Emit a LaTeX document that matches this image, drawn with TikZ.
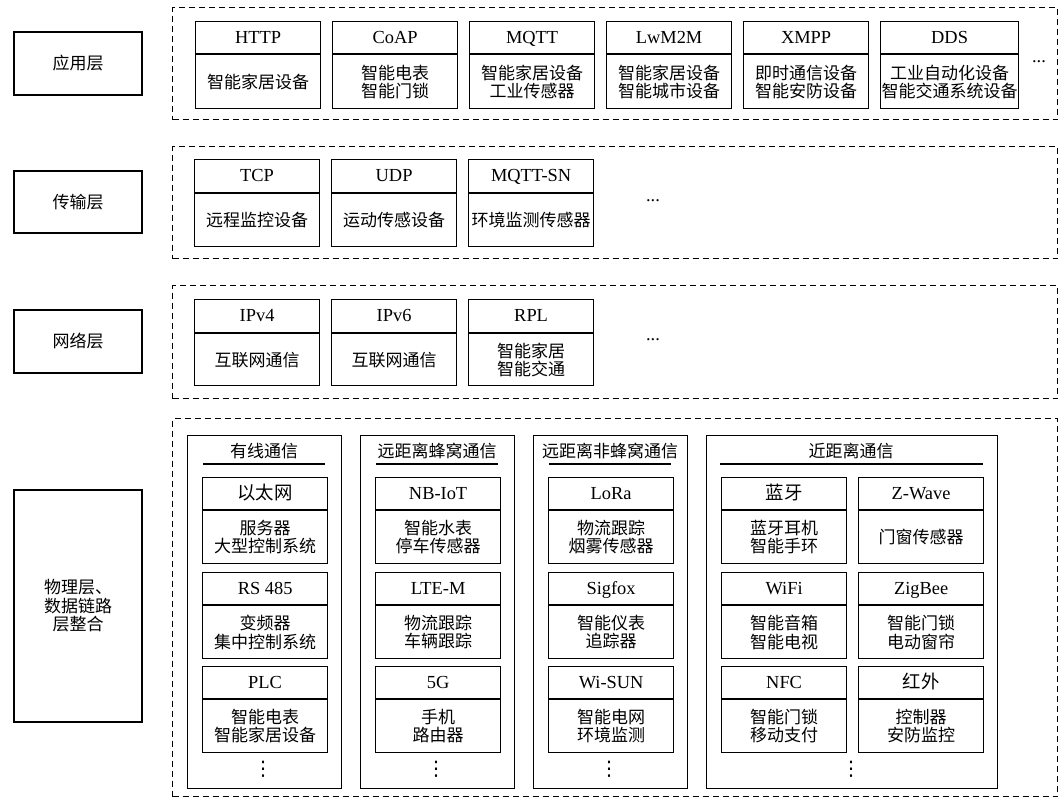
\documentclass[tikz,border=0pt]{standalone}
\usepackage{fontspec}
\setmainfont{Liberation Serif}
\newfontfamily\cjk{Noto Sans CJK SC}
\newfontfamily\dejavu{DejaVu Sans}
\newcommand\pbox[8]{%
  \node[hdr, minimum width=#4*0.75pt, minimum height=#5*0.75pt] (#1h) at (#2,#3) {#7};
  \node[bdy, minimum width=#4*0.75pt, minimum height=#6*0.75pt] (#1b) at (#1h.south) {#8};
}
\begin{document}
\begin{tikzpicture}[x=0.75pt,y=-0.75pt,
  hdr/.style={draw, line width=0.9pt, anchor=north west, inner sep=0pt, text height=9.8pt, text depth=1.6pt, font=\fontsize{13.8}{15}\selectfont},
  bdy/.style={draw, line width=0.9pt, anchor=north, inner sep=0pt, align=center, font=\cjk\fontsize{12.75}{13.8}\selectfont},
  lbl/.style={draw, line width=0.9pt, minimum width=96pt, inner sep=0pt, align=center, font=\cjk\fontsize{12.75}{13.8}\selectfont},
  dashbox/.style={draw, line width=0.8pt, dash pattern=on 4.5pt off 3pt, anchor=north west, inner sep=0pt, minimum width=663.75pt},
  grp/.style={draw, line width=0.9pt, anchor=north west, inner sep=0pt, minimum height=264.75pt},
  gtitle/.style={inner sep=0pt, font=\cjk\fontsize{12.75}{13.8}\selectfont},
  more/.style={inner sep=0pt, font=\fontsize{13.8}{15}\selectfont},
  vdot/.style={inner sep=0pt, font=\dejavu\fontsize{15}{16}\selectfont}
]
\useasboundingbox (0,0) rectangle (1062,798);

% layer labels
\node[lbl, minimum height=47.25pt] (app) at (78,63.5) {应用层};
\node[lbl, minimum height=46.5pt] (trans) at (78,202) {传输层};
\node[lbl, minimum height=47.25pt] (net) at (78,341.5) {网络层};
\node[lbl, minimum height=174pt] (phy) at (78,606) {物理层、\\数据链路\\层整合};

% dashed containers
\node[dashbox, minimum height=84pt] (L1) at (172,7) {};
\node[dashbox, minimum height=84pt] (L2) at (172,146) {};
\node[dashbox, minimum height=84.75pt] (L3) at (172,285) {};
\node[dashbox, minimum height=283.5pt] (L4) at (172,418) {};

% application layer
\pbox{http}{195}{21}{125}{32}{54}{HTTP}{智能家居设备}
\pbox{coap}{332}{21}{125}{32}{54}{CoAP}{智能电表\\智能门锁}
\pbox{mqtt}{469}{21}{125}{32}{54}{MQTT}{智能家居设备\\工业传感器}
\pbox{lwm}{606}{21}{125}{32}{54}{LwM2M}{智能家居设备\\智能城市设备}
\pbox{xmpp}{743}{21}{125}{32}{54}{XMPP}{即时通信设备\\智能安防设备}
\pbox{dds}{880}{21}{138}{32}{54}{DDS}{工业自动化设备\\智能交通系统设备}
\node[more] (m1) at (1039,62) {...};

% transport layer
\pbox{tcp}{194}{159}{125}{33}{53}{TCP}{远程监控设备}
\pbox{udp}{331}{159}{125}{33}{53}{UDP}{运动传感设备}
\pbox{msn}{468}{159}{125}{33}{53}{MQTT-SN}{环境监测传感器}
\node[more] (m2) at (653,201) {...};

% network layer
\pbox{ipf}{194}{299}{125}{33}{52}{IPv4}{互联网通信}
\pbox{ips}{331}{299}{125}{33}{52}{IPv6}{互联网通信}
\pbox{rpl}{468}{299}{125}{33}{52}{RPL}{智能家居\\智能交通}
\node[more] (m3) at (653,340) {...};

% physical groups
\node[grp, minimum width=115.5pt] (g1) at (187,435) {};
\node[grp, minimum width=115.5pt] (g2) at (360,435) {};
\node[grp, minimum width=115.5pt] (g3) at (533,435) {};
\node[grp, minimum width=218.25pt] (g4) at (706,435) {};

\node[gtitle] (t1) at (264,451) {有线通信};
\node[gtitle] (t2) at (437,451) {远距离蜂窝通信};
\node[gtitle] (t3) at (610,451) {远距离非蜂窝通信};
\node[gtitle] (t4) at (851,451) {近距离通信};
\coordinate (u1a) at (203,464); \coordinate (u1b) at (325,464);
\coordinate (u2a) at (376,464); \coordinate (u2b) at (498,464);
\coordinate (u3a) at (549,464); \coordinate (u3b) at (671,464);
\coordinate (u4a) at (720,464); \coordinate (u4b) at (983,464);
\draw[line width=0.9pt] (u1a) -- (u1b);
\draw[line width=0.9pt] (u2a) -- (u2b);
\draw[line width=0.9pt] (u3a) -- (u3b);
\draw[line width=0.9pt] (u4a) -- (u4b);

% wired
\pbox{eth}{202}{477}{125}{32}{53}{\cjk 以太网}{服务器\\大型控制系统}
\pbox{rs}{202}{572}{125}{32}{53}{RS 485}{变频器\\集中控制系统}
\pbox{plc}{202}{666}{125}{32}{53}{PLC}{智能电表\\智能家居设备}
% cellular
\pbox{nb}{375}{477}{125}{32}{53}{NB-IoT}{智能水表\\停车传感器}
\pbox{lte}{375}{572}{125}{32}{53}{LTE-M}{物流跟踪\\车辆跟踪}
\pbox{fg}{375}{666}{125}{32}{53}{5G}{手机\\路由器}
% non-cellular
\pbox{lora}{548}{477}{125}{32}{53}{LoRa}{物流跟踪\\烟雾传感器}
\pbox{sig}{548}{572}{125}{32}{53}{Sigfox}{智能仪表\\追踪器}
\pbox{wis}{548}{666}{125}{32}{53}{Wi-SUN}{智能电网\\环境监测}
% short range
\pbox{bt}{721}{477}{125}{32}{53}{\cjk 蓝牙}{蓝牙耳机\\智能手环}
\pbox{zw}{858}{477}{125}{32}{53}{Z-Wave}{门窗传感器}
\pbox{wifi}{721}{572}{125}{32}{53}{WiFi}{智能音箱\\智能电视}
\pbox{zb}{858}{572}{125}{32}{53}{ZigBee}{智能门锁\\电动窗帘}
\pbox{nfc}{721}{666}{125}{32}{53}{NFC}{智能门锁\\移动支付}
\pbox{ir}{858}{666}{125}{32}{53}{\cjk 红外}{控制器\\安防监控}

\node[vdot] (d1) at (263,769) {⋮};
\node[vdot] (d2) at (436,769) {⋮};
\node[vdot] (d3) at (609,769) {⋮};
\node[vdot] (d4) at (851,769) {⋮};
\end{tikzpicture}
\end{document}
